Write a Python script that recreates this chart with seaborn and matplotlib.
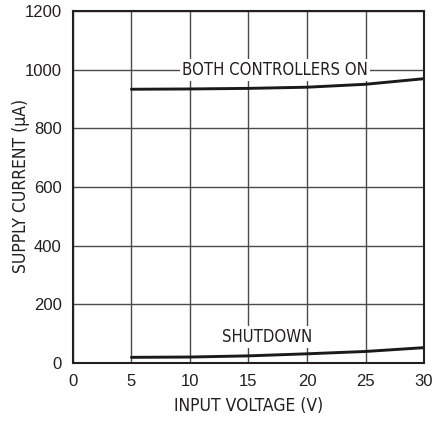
import matplotlib
matplotlib.use("Agg")
import matplotlib.pyplot as plt
import seaborn as sns
import pandas as pd

# Supply current vs input voltage
voltage = [5, 10, 15, 20, 25, 30]
current_on = [933, 934, 936, 940, 950, 969]
current_shutdown = [19, 20, 24, 31, 39, 52]

x_ticks = [0, 5, 10, 15, 20, 25, 30]
y_ticks = [0, 200, 400, 600, 800, 1000, 1200]

sns.set_theme(style="white")
plt.rcParams["font.family"] = ["Liberation Sans", "DejaVu Sans"]

label_font = dict(family=["DejaVu Sans"], fontstretch="condensed")

df = pd.concat([
    pd.DataFrame({"V": voltage, "I": current_on, "mode": "on"}),
    pd.DataFrame({"V": voltage, "I": current_shutdown, "mode": "shutdown"}),
])

fig = plt.figure(figsize=(4.34, 4.21), dpi=100)
ax = fig.add_axes([0.168, 0.138, 0.809, 0.836])

for mode, sub in df.groupby("mode"):
    sns.lineplot(data=sub, x="V", y="I", ax=ax, color="#1a1a1a", linewidth=2.1,
                 estimator=None, sort=True)

ax.set_xlim(0, 30)
ax.set_ylim(0, 1200)
ax.set_xticks(x_ticks)
ax.set_yticks(y_ticks)
ax.tick_params(axis="x", labelsize=12, colors="#231f20", length=0, pad=8)
ax.tick_params(axis="y", labelsize=12, colors="#231f20", length=0, pad=8)
ax.grid(True, color="#4a4a4a", linewidth=1.0)
ax.set_axisbelow(True)
for s in ax.spines.values():
    s.set_color("#231f20")
    s.set_linewidth(1.5)

ax.set_xlabel("INPUT VOLTAGE (V)", fontsize=12.5, color="#231f20", labelpad=6,
              **label_font)
ax.set_ylabel("SUPPLY CURRENT (\u00b5A)", fontsize=12.5, color="#231f20",
              **label_font)
ax.yaxis.set_label_coords(-0.121, 0.503)

ax.text(17.3, 1000, "BOTH CONTROLLERS ON", fontsize=12, color="#231f20",
        ha="center", va="center",
        bbox=dict(facecolor="white", edgecolor="none", pad=1.5), **label_font)
ax.text(16.6, 88, "SHUTDOWN", fontsize=12, color="#231f20",
        ha="center", va="center",
        bbox=dict(facecolor="white", edgecolor="none", pad=1.5), **label_font)

fig.savefig("out.png", dpi=100)
